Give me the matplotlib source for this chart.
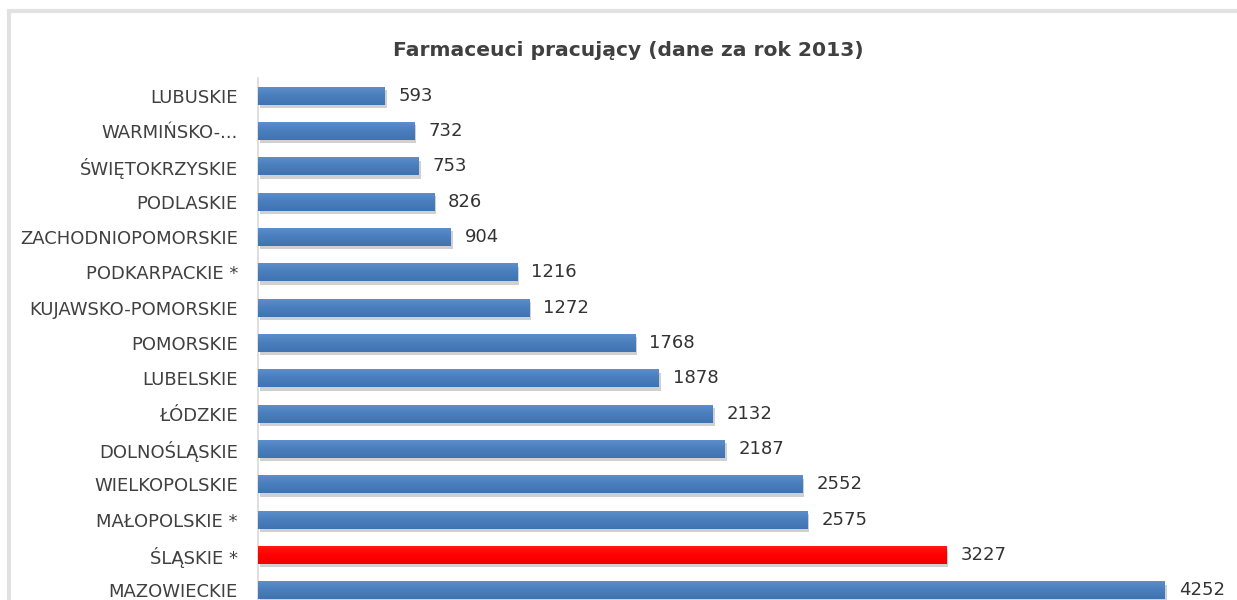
import matplotlib
matplotlib.use("Agg")
import matplotlib.pyplot as plt
import matplotlib.patheffects as pe
from matplotlib.patches import Rectangle
from matplotlib.colors import LinearSegmentedColormap
import numpy as np

plt.rcParams['font.family'] = ['DejaVu Sans']

title = "Farmaceuci pracujący (dane za rok 2013)"
categories = ["LUBUSKIE", "WARMIŃSKO-...", "ŚWIĘTOKRZYSKIE", "PODLASKIE",
              "ZACHODNIOPOMORSKIE", "PODKARPACKIE *", "KUJAWSKO-POMORSKIE",
              "POMORSKIE", "LUBELSKIE", "ŁÓDZKIE", "DOLNOŚLĄSKIE",
              "WIELKOPOLSKIE", "MAŁOPOLSKIE *", "ŚLĄSKIE *", "MAZOWIECKIE"]
values = [593, 732, 753, 826, 904, 1216, 1272, 1768, 1878, 2132, 2187,
          2552, 2575, 3227, 4252]
highlight = "ŚLĄSKIE *"

W, H = 1237, 600
fig = plt.figure(figsize=(W / 100, H / 100), dpi=100)
fig.patch.set_facecolor("white")

# outer light frame
fig.patches.append(Rectangle((9 / W, -0.1), 2.0, 1.1 - 11 / H, transform=fig.transFigure,
                             fill=False, edgecolor="#e2e2e2", linewidth=3, zorder=0))

left = 258 / W
top = 1 - 78 / H
bottom = 1 - 608 / H
ax = fig.add_axes([left, bottom, (W - 258) / W, top - bottom])
ax.set_facecolor("none")

n = len(categories)
ypos = list(range(n))
blue_cmap = LinearSegmentedColormap.from_list("b", ["#5f90cf", "#4a7ebb", "#4073b3"])
red_cmap = LinearSegmentedColormap.from_list("r", ["#ff1a1a", "#ff0000", "#f20000"])
colors = ["#ff0000" if c == highlight else "#4a7ebb" for c in categories]
bars = ax.barh(ypos, values, height=0.51, color=colors, zorder=3,
               path_effects=[pe.SimplePatchShadow(offset=(1.5, -2.5), shadow_rgbFace="#8a8a8a", alpha=0.4),
                             pe.Normal()])

grad = np.linspace(0, 1, 64).reshape(-1, 1)
for b, c in zip(bars, categories):
    cmap = red_cmap if c == highlight else blue_cmap
    x0, y0, w, h = b.get_x(), b.get_y(), b.get_width(), b.get_height()
    im = ax.imshow(grad, cmap=cmap, aspect="auto", extent=(x0, x0 + w, y0 + h, y0),
                   origin="upper", zorder=4, interpolation="bilinear")
    im.set_clip_path(b)

px_per_unit = (1165 - 258) / 4252
ax.set_ylim(n - 0.5, -0.5)
ax.set_xlim(0, (W - 258) / px_per_unit)

ax.set_yticks(ypos)
ax.set_yticklabels(categories, fontsize=13, color="#404040")
ax.tick_params(axis="y", length=0, pad=14.4)
ax.set_xticks([])
for s in ["top", "right", "bottom"]:
    ax.spines[s].set_visible(False)
ax.spines["left"].set_color("#d9d9d9")
ax.spines["left"].set_linewidth(1.2)

for b, v in zip(bars, values):
    ax.annotate(f"{v}", (b.get_width(), b.get_y() + b.get_height() / 2),
                xytext=(14, 0), textcoords="offset pixels",
                va="center", ha="left", fontsize=13, color="#333333", zorder=5)

fig.text(628 / W, 1 - 50 / H, title, ha="center", va="center",
         fontsize=14.6, fontweight="bold", color="#404040")

fig.savefig("out.png", dpi=100)
